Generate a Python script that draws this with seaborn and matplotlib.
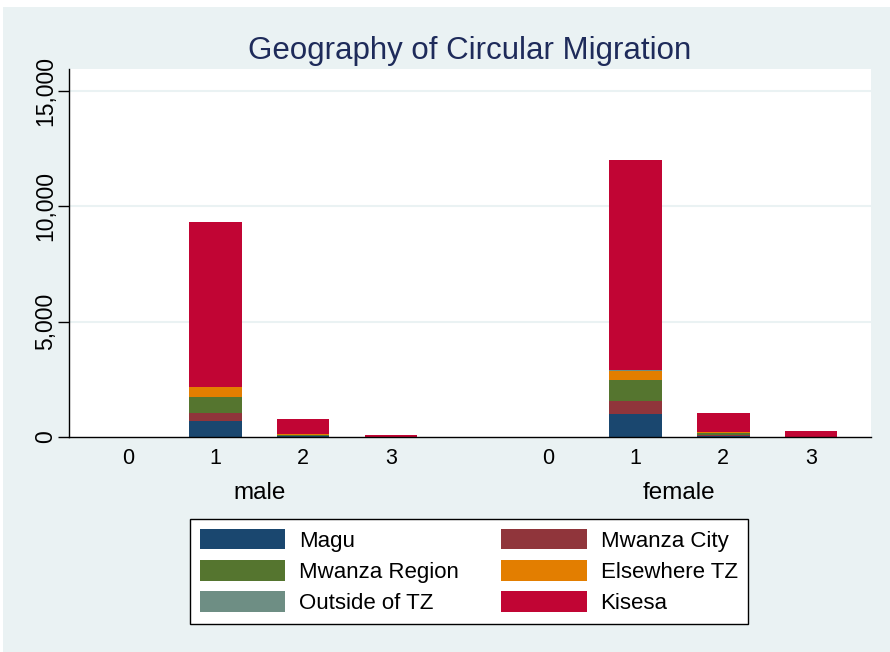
import numpy as np
import pandas as pd
import matplotlib
matplotlib.use("Agg")
import matplotlib.pyplot as plt
from matplotlib.patches import Patch, Rectangle
import seaborn as sns

# --- Data ---
sexes = ["male", "female"]
categories = ["0", "1", "2", "3"]
# bar slots: male 0..3, then female 0..3 (gap between the groups)
positions = [0, 1, 2, 3, 4.79, 5.79, 6.79, 7.79]

magu          = [0, 690, 30, 2, 0, 1015, 50, 3]
mwanza_city   = [0, 335, 25, 1, 0, 550, 40, 2]
mwanza_region = [0, 720, 50, 2, 0, 900, 80, 3]
elsewhere_tz  = [0, 410, 30, 1, 0, 400, 35, 2]
outside_tz    = [0, 15, 5, 0, 0, 20, 5, 0]
kisesa        = [0, 7150, 640, 70, 0, 9130, 830, 240]

series = [
    ("Magu", magu, "#1a476f"),
    ("Mwanza City", mwanza_city, "#90353b"),
    ("Mwanza Region", mwanza_region, "#55752f"),
    ("Elsewhere TZ", elsewhere_tz, "#e37e00"),
    ("Outside of TZ", outside_tz, "#6e8e84"),
    ("Kisesa", kisesa, "#c10534"),
]

BG = "#eaf2f3"
FONT = ["Liberation Sans", "DejaVu Sans"]

sns.set_theme(style="white")
plt.rcParams["font.family"] = FONT
plt.rcParams["text.color"] = "black"

fig = plt.figure(figsize=(8.9, 6.52), dpi=100)
fig.patch.set_facecolor("white")
fig.patches.append(Rectangle((3 / 890, 0), 1, (652 - 7) / 652, transform=fig.transFigure,
                             facecolor=BG, edgecolor="none", zorder=-10))

ax = fig.add_axes([68.7 / 890, 1 - 437 / 652, (871 - 68.7) / 890, (437 - 69) / 652])
ax.set_facecolor("white")

# stacked bars: draw cumulative totals from the top layer down
df = pd.DataFrame({name: vals for name, vals, _ in series})
df["pos"] = positions
cum = df[[s[0] for s in series]].cumsum(axis=1)
for name, _, color in reversed(series):
    sns.barplot(x=df["pos"], y=cum[name], native_scale=True, color=color,
                saturation=1, width=0.6, linewidth=0, errorbar=None, ax=ax, zorder=3)

ax.set_xlim(-0.673, 8.475)
ax.set_ylim(0, 15950)
ax.set_xlabel("")
ax.set_ylabel("")

ax.set_xticks(positions)
ax.set_xticklabels(categories * 2, fontsize=15.5)
ax.tick_params(axis="x", length=0, pad=8, colors="black")

yt = [0, 5000, 10000, 15000]
ax.set_yticks(yt)
ax.set_yticklabels([f"{v:,}" for v in yt], fontsize=16.5, rotation=90, va="center")
ax.tick_params(axis="y", length=8, width=1, direction="out", pad=0, colors="black", left=True)

for v in yt[1:]:
    ax.axhline(v, color=BG, linewidth=1.5, zorder=1)

for side in ["top", "right"]:
    ax.spines[side].set_visible(False)
for side in ["left", "bottom"]:
    ax.spines[side].set_color("black")
    ax.spines[side].set_linewidth(1)
ax.spines["bottom"].set_zorder(5)

# group labels under the tick labels
group_y = (437 - 493) / (437 - 69)
for i, sex in enumerate(sexes):
    xc = np.mean(positions[i * 4 + 1:i * 4 + 3])
    ax.text(xc, group_y, sex, transform=ax.get_xaxis_transform(), ha="center", va="center",
            fontsize=17.5, color="black")

ax.set_title("Geography of Circular Migration", fontsize=22.5, color="#1e2b5a", pad=7)

# legend, filled row-wise like the original
order = [0, 2, 4, 1, 3, 5]
handles = [Patch(facecolor=series[i][2], edgecolor="none") for i in order]
labels = [series[i][0] for i in order]
leg = fig.legend(handles, labels, ncol=2, loc="center",
                 bbox_to_anchor=(469 / 890, 1 - 571.5 / 652),
                 fontsize=16, frameon=True, fancybox=False, framealpha=1,
                 handlelength=3.83, handleheight=1.05, handletextpad=0.63,
                 columnspacing=1.9, labelspacing=0.38, borderpad=0.45)
leg.get_frame().set_edgecolor("black")
leg.get_frame().set_linewidth(1)
leg.get_frame().set_facecolor("white")
for t in leg.get_texts():
    t.set_color("black")

fig.savefig("out.png", dpi=100, facecolor=fig.get_facecolor())
